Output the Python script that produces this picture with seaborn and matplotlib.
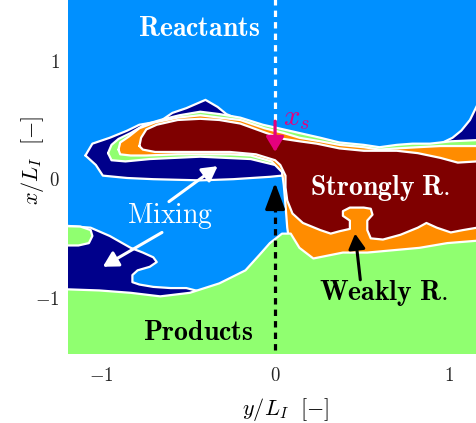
import matplotlib
matplotlib.use('Agg')
import matplotlib.pyplot as plt
import seaborn as sns

sns.set_theme(style='white')
plt.rcParams['mathtext.fontset'] = 'cm'
plt.rcParams['font.family'] = ['DejaVu Serif']

# regime colours
c_reac = '#0090ff'
c_mix = '#00008b'
c_prod = '#90ff70'
c_weak = '#ff8c00'
c_strong = '#7f0000'
c_xs = '#e5007e'

# region boundaries, as (y/L_I, x/L_I)
navy_upper = [(-1.09, 0.20), (-1.05, 0.30), (-0.95, 0.35), (-0.85, 0.41), (-0.78, 0.46),
              (-0.66, 0.49), (-0.59, 0.56), (-0.51, 0.60), (-0.40, 0.67), (-0.33, 0.61),
              (-0.28, 0.55), (-0.20, 0.50), (-0.09, 0.45), (0.03, 0.37), (0.06, 0.12),
              (0.04, 0.03), (-0.03, 0.02), (-0.24, 0.00), (-0.43, -0.01), (-0.70, 0.00),
              (-0.85, 0.01), (-0.99, 0.03), (-1.03, 0.12)]
navy_right = [(0.89, 0.28), (0.95, 0.30), (1.02, 0.35), (1.07, 0.41), (1.12, 0.50),
              (1.16, 0.62), (1.40, 0.80), (1.40, 0.20), (0.89, 0.20)]
green_upper = [(-0.96, 0.22), (-0.94, 0.29), (-0.90, 0.34), (-0.83, 0.39), (-0.75, 0.46),
               (-0.66, 0.50), (-0.55, 0.54), (-0.43, 0.57), (-0.32, 0.55), (-0.20, 0.52),
               (-0.07, 0.46), (0.05, 0.42), (0.14, 0.39), (0.26, 0.35), (0.37, 0.31),
               (0.51, 0.29), (0.60, 0.27), (0.70, 0.29), (0.79, 0.30), (0.89, 0.30),
               (1.01, 0.32), (1.16, 0.33), (1.40, 0.33), (1.40, 0.00), (0.06, 0.09),
               (0.00, 0.12), (-0.14, 0.17), (-0.43, 0.19), (-0.72, 0.17), (-0.86, 0.15),
               (-0.94, 0.16)]
weak = [(-0.90, 0.25), (-0.89, 0.31), (-0.84, 0.36), (-0.78, 0.43), (-0.69, 0.48),
        (-0.56, 0.52), (-0.43, 0.54), (-0.32, 0.52), (-0.20, 0.50), (-0.06, 0.43),
        (0.05, 0.39), (0.14, 0.35), (0.26, 0.32), (0.37, 0.29), (0.51, 0.27),
        (0.60, 0.25), (0.70, 0.26), (0.82, 0.27), (0.95, 0.28), (1.06, 0.28),
        (1.40, 0.28), (1.40, -0.75), (0.20, -0.81), (0.13, -0.67), (0.08, -0.51),
        (0.07, -0.41), (0.06, -0.22), (0.05, -0.05), (0.04, 0.06), (-0.02, 0.15),
        (-0.14, 0.20), (-0.26, 0.21), (-0.43, 0.21), (-0.56, 0.21), (-0.74, 0.20),
        (-0.83, 0.20), (-0.89, 0.21)]
strong = [(-0.78, 0.28), (-0.77, 0.35), (-0.74, 0.42), (-0.68, 0.46), (-0.56, 0.50),
          (-0.43, 0.51), (-0.32, 0.50), (-0.20, 0.47), (-0.05, 0.39), (0.05, 0.34),
          (0.14, 0.32), (0.24, 0.30), (0.37, 0.26), (0.51, 0.24), (0.70, 0.24),
          (0.82, 0.22), (0.95, 0.18), (1.05, 0.14), (1.16, 0.15), (1.40, 0.15),
          (1.40, -0.41), (1.16, -0.41), (1.08, -0.43), (1.01, -0.45), (0.93, -0.41),
          (0.87, -0.37), (0.82, -0.41), (0.72, -0.47), (0.62, -0.51), (0.55, -0.50),
          (0.53, -0.43), (0.53, -0.35), (0.56, -0.30), (0.55, -0.25), (0.51, -0.24),
          (0.43, -0.24), (0.39, -0.27), (0.39, -0.31), (0.43, -0.35), (0.43, -0.42),
          (0.37, -0.44), (0.32, -0.46), (0.26, -0.43), (0.16, -0.37), (0.10, -0.29),
          (0.07, -0.18), (0.06, -0.07), (0.06, 0.03), (0.03, 0.12), (0.00, 0.16),
          (-0.11, 0.21), (-0.26, 0.23), (-0.43, 0.23), (-0.56, 0.23), (-0.69, 0.23),
          (-0.76, 0.25)]
navy_lower = [(-1.40, -0.37), (-1.06, -0.41), (-0.95, -0.48), (-0.83, -0.58), (-0.76, -0.62),
              (-0.70, -0.66), (-0.68, -0.70), (-0.72, -0.74), (-0.79, -0.77), (-0.82, -0.81),
              (-0.82, -0.87), (-0.78, -0.89), (-0.70, -0.91), (-0.60, -0.92), (-0.51, -0.92),
              (-0.43, -0.95), (-0.43, -1.11), (-1.40, -1.11)]
products = [(-1.40, -0.92), (-1.01, -0.94), (-0.83, -0.96), (-0.66, -0.99), (-0.49, -0.96),
            (-0.32, -0.88), (-0.17, -0.77), (-0.09, -0.64), (-0.03, -0.54), (0.04, -0.46),
            (0.09, -0.46), (0.14, -0.58), (0.22, -0.67), (0.39, -0.62), (0.53, -0.62),
            (0.68, -0.60), (0.83, -0.58), (0.99, -0.54), (1.16, -0.52), (1.40, -0.50),
            (1.40, -1.80), (-1.40, -1.80)]
green_blob = [(-1.40, -0.39), (-1.12, -0.40), (-1.06, -0.43), (-1.05, -0.48), (-1.07, -0.54),
              (-1.13, -0.56), (-1.40, -0.56)]

layers = [(navy_upper, c_mix), (navy_right, c_mix), (green_upper, c_prod),
          (weak, c_weak), (strong, c_strong), (navy_lower, c_mix),
          (products, c_prod), (green_blob, c_prod)]

ticks = [-1, 0, 1]
tick_labels = ['$-1$', '$0$', '$1$']

fig = plt.figure(figsize=(4.76, 4.23), dpi=100)
ax = fig.add_axes([0.1429, 0.1631, 0.916, 0.917])
ax.set_facecolor(c_reac)

for i, (poly, col) in enumerate(layers):
    hx = [p[0] for p in poly] + [poly[0][0]]
    vx = [p[1] for p in poly] + [poly[0][1]]
    ax.fill(hx, vx, color=col, lw=0, zorder=2 * i + 1)
    sns.lineplot(x=hx, y=vx, sort=False, estimator=None, color='white',
                 lw=1.6, zorder=2 * i + 2, ax=ax)

# dashed centre line with the two arrows
ax.plot([0, 0], [0.50, 1.9], color='white', lw=2.3, dashes=(2, 1.6), zorder=40)
ax.plot([0, 0], [-1.44, -0.22], color='black', lw=2.3, dashes=(2, 1.6), zorder=40)
ax.annotate('', xy=(0, -0.03), xytext=(0, -0.22), zorder=41,
            arrowprops=dict(arrowstyle='-|>,head_length=0.8,head_width=0.3',
                            color='black', lw=2.3, mutation_scale=20, shrinkA=0, shrinkB=0))
ax.annotate('', xy=(0, 0.23), xytext=(0, 0.49), zorder=41,
            arrowprops=dict(arrowstyle='-|>,head_length=0.45,head_width=0.27',
                            color=c_xs, lw=2.3, mutation_scale=20, shrinkA=0, shrinkB=0))
ax.text(0.046, 0.52, '$x_s$', color=c_xs, fontsize=21, va='center', ha='left', zorder=42)

# annotations
arrow_kw = dict(arrowstyle='-|>,head_length=0.45,head_width=0.25', lw=2.2,
                mutation_scale=20, shrinkA=0, shrinkB=0)
ax.annotate('', xy=(-0.33, 0.11), xytext=(-0.61, -0.19), zorder=41,
            arrowprops=dict(color='white', **arrow_kw))
ax.annotate('', xy=(-0.99, -0.74), xytext=(-0.65, -0.45), zorder=41,
            arrowprops=dict(color='white', **arrow_kw))
ax.annotate('', xy=(0.46, -0.46), xytext=(0.49, -0.85), zorder=41,
            arrowprops=dict(color='black', **arrow_kw))

ax.text(-0.79, 1.21, r'$\mathbf{Reactants}$', color='white', fontsize=20, zorder=42)
ax.text(-0.85, -0.37, r'$\mathrm{Mixing}$', color='white', fontsize=20, zorder=42)
ax.text(0.20, -0.135, r'$\mathbf{Strongly\ R.}$', color='white', fontsize=20, zorder=42)
ax.text(0.25, -1.02, r'$\mathbf{Weakly\ R.}$', color='black', fontsize=20, zorder=42)
ax.text(-0.76, -1.36, r'$\mathbf{Products}$', color='black', fontsize=20, zorder=42)

ax.set_xlim(-1.19, 1.316)
ax.set_ylim(-1.477, 1.80)
ax.set_xticks(ticks)
ax.set_xticklabels(tick_labels, fontsize=13.5)
ax.set_yticks(ticks)
ax.set_yticklabels(tick_labels, fontsize=13.5)
ax.tick_params(length=0)
ax.tick_params(axis='x', pad=9)
ax.tick_params(axis='y', pad=6)
ax.set_xlabel(r'$y/L_I\ \ [-]$', fontsize=16, color='black')
ax.set_ylabel(r'$x/L_I\ \ [-]$', fontsize=16, color='black')
ax.xaxis.set_label_coords(0.5, -0.108)
ax.yaxis.set_label_coords(-0.05, 0.5)
for s in ax.spines.values():
    s.set_visible(False)
ax.grid(False)

fig.savefig('out.png', dpi=100)
